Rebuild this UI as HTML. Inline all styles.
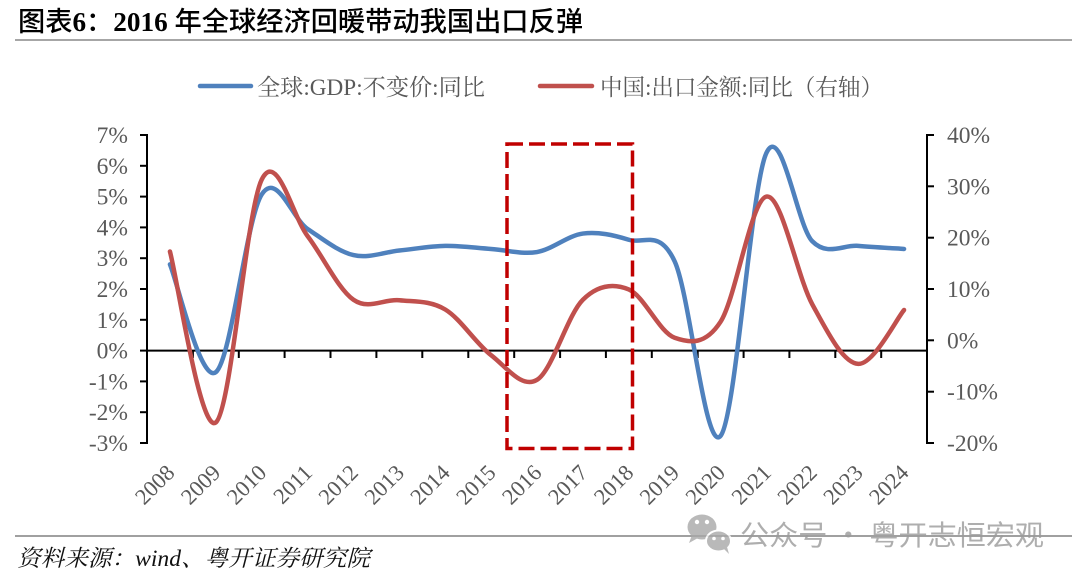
<!DOCTYPE html>
<html>
<head>
<meta charset="utf-8">
<style>
html,body{margin:0;padding:0;background:#fff;}
svg{display:block;}
</style>
</head>
<body>
<svg width="1080" height="578" viewBox="0 0 1080 578" xmlns="http://www.w3.org/2000/svg">
<rect width="1080" height="578" fill="#fff"/>

<!-- Title -->
<text x="18" y="31" font-size="27" fill="#000" textLength="565" lengthAdjust="spacingAndGlyphs" font-family="'Liberation Serif','Noto Sans CJK SC',sans-serif"><tspan font-family="'Noto Sans CJK SC',sans-serif" font-weight="500">图表</tspan><tspan font-family="'Liberation Serif',serif" font-weight="bold">6</tspan><tspan font-family="'Noto Sans CJK SC',sans-serif" font-weight="500">：</tspan><tspan font-family="'Liberation Serif',serif" font-weight="bold">2016 </tspan><tspan font-family="'Noto Sans CJK SC',sans-serif" font-weight="500">年全球经济回暖带动我国出口反弹</tspan></text>
<line x1="15" y1="40" x2="1072" y2="40" stroke="#a6a6a6" stroke-width="2"/>

<!-- Legend -->
<line x1="200" y1="86" x2="251" y2="86" stroke="#4F81BD" stroke-width="4.5" stroke-linecap="round"/>
<text x="257" y="95" font-size="23" fill="#595959" textLength="228" lengthAdjust="spacingAndGlyphs" font-family="'Liberation Serif','Noto Serif CJK SC',serif">全球:GDP:不变价:同比</text>
<line x1="540" y1="86" x2="592" y2="86" stroke="#C0504D" stroke-width="4.5" stroke-linecap="round"/>
<text x="600" y="95" font-size="23" fill="#595959" textLength="283" lengthAdjust="spacingAndGlyphs" font-family="'Liberation Serif','Noto Serif CJK SC',serif">中国:出口金额:同比（右轴）</text>

<!-- Axes -->
<g stroke="#000" stroke-width="2" fill="none">
  <line x1="147" y1="134" x2="147" y2="444"/>
  <line x1="927" y1="134" x2="927" y2="444"/>
  <line x1="146" y1="350.6" x2="928" y2="350.6"/>
  <!-- left ticks -->
  <line x1="140" y1="135" x2="147" y2="135"/>
  <line x1="140" y1="165.8" x2="147" y2="165.8"/>
  <line x1="140" y1="196.6" x2="147" y2="196.6"/>
  <line x1="140" y1="227.4" x2="147" y2="227.4"/>
  <line x1="140" y1="258.2" x2="147" y2="258.2"/>
  <line x1="140" y1="289" x2="147" y2="289"/>
  <line x1="140" y1="319.8" x2="147" y2="319.8"/>
  <line x1="140" y1="350.6" x2="147" y2="350.6"/>
  <line x1="140" y1="381.4" x2="147" y2="381.4"/>
  <line x1="140" y1="412.2" x2="147" y2="412.2"/>
  <line x1="140" y1="443" x2="147" y2="443"/>
  <!-- right ticks -->
  <line x1="927" y1="135" x2="934" y2="135"/>
  <line x1="927" y1="186.3" x2="934" y2="186.3"/>
  <line x1="927" y1="237.7" x2="934" y2="237.7"/>
  <line x1="927" y1="289" x2="934" y2="289"/>
  <line x1="927" y1="340.3" x2="934" y2="340.3"/>
  <line x1="927" y1="391.7" x2="934" y2="391.7"/>
  <line x1="927" y1="443" x2="934" y2="443"/>
  <!-- x ticks -->
  <line x1="192.9" y1="350" x2="192.9" y2="358"/>
  <line x1="238.8" y1="350" x2="238.8" y2="358"/>
  <line x1="284.6" y1="350" x2="284.6" y2="358"/>
  <line x1="330.5" y1="350" x2="330.5" y2="358"/>
  <line x1="376.4" y1="350" x2="376.4" y2="358"/>
  <line x1="422.3" y1="350" x2="422.3" y2="358"/>
  <line x1="468.3" y1="350" x2="468.3" y2="358"/>
  <line x1="514.2" y1="350" x2="514.2" y2="358"/>
  <line x1="560.1" y1="350" x2="560.1" y2="358"/>
  <line x1="605.9" y1="350" x2="605.9" y2="358"/>
  <line x1="651.8" y1="350" x2="651.8" y2="358"/>
  <line x1="697.7" y1="350" x2="697.7" y2="358"/>
  <line x1="743.6" y1="350" x2="743.6" y2="358"/>
  <line x1="789.4" y1="350" x2="789.4" y2="358"/>
  <line x1="835.3" y1="350" x2="835.3" y2="358"/>
  <line x1="881.2" y1="350" x2="881.2" y2="358"/>
</g>

<!-- Left axis labels -->
<g font-family="'Liberation Serif',serif" font-size="23.5" fill="#595959" text-anchor="end">
  <text x="128" y="143">7%</text>
  <text x="128" y="173.8">6%</text>
  <text x="128" y="204.6">5%</text>
  <text x="128" y="235.4">4%</text>
  <text x="128" y="266.2">3%</text>
  <text x="128" y="297">2%</text>
  <text x="128" y="327.8">1%</text>
  <text x="128" y="358.6">0%</text>
  <text x="128" y="389.4">-1%</text>
  <text x="128" y="420.2">-2%</text>
  <text x="128" y="451">-3%</text>
</g>
<!-- Right axis labels -->
<g font-family="'Liberation Serif',serif" font-size="23.5" fill="#595959" text-anchor="start">
  <text x="947" y="143">40%</text>
  <text x="947" y="194.3">30%</text>
  <text x="947" y="245.7">20%</text>
  <text x="947" y="297">10%</text>
  <text x="947" y="348.3">0%</text>
  <text x="947" y="399.7">-10%</text>
  <text x="947" y="451">-20%</text>
</g>

<!-- X labels -->
<g font-family="'Liberation Serif',serif" font-size="22.5" fill="#595959" text-anchor="end">
  <text transform="translate(175.9,474) rotate(-45)">2008</text>
  <text transform="translate(221.8,474) rotate(-45)">2009</text>
  <text transform="translate(267.7,474) rotate(-45)">2010</text>
  <text transform="translate(313.6,474) rotate(-45)">2011</text>
  <text transform="translate(359.5,474) rotate(-45)">2012</text>
  <text transform="translate(405.4,474) rotate(-45)">2013</text>
  <text transform="translate(451.2,474) rotate(-45)">2014</text>
  <text transform="translate(497.1,474) rotate(-45)">2015</text>
  <text transform="translate(543.0,474) rotate(-45)">2016</text>
  <text transform="translate(588.9,474) rotate(-45)">2017</text>
  <text transform="translate(634.8,474) rotate(-45)">2018</text>
  <text transform="translate(680.6,474) rotate(-45)">2019</text>
  <text transform="translate(726.5,474) rotate(-45)">2020</text>
  <text transform="translate(772.4,474) rotate(-45)">2021</text>
  <text transform="translate(818.3,474) rotate(-45)">2022</text>
  <text transform="translate(864.2,474) rotate(-45)">2023</text>
  <text transform="translate(910.0,474) rotate(-45)">2024</text>
</g>

<!-- Blue series -->
<path fill="none" stroke="#4F81BD" stroke-width="4.5" stroke-linecap="round" stroke-linejoin="round"
d="M169.94,264.36 C177.59,282.33 200.53,383.81 215.82,372.16
C231.11,360.51 246.41,218.31 261.70,194.44
C276.99,170.57 292.30,218.83 307.59,228.94
C322.88,239.05 338.18,251.53 353.47,255.12
C368.76,258.71 384.06,252.04 399.35,250.5
C414.64,248.96 429.94,246.14 445.23,245.88
C460.52,245.62 475.82,247.93 491.11,248.96
C506.40,249.99 521.71,254.61 537.00,252.04
C552.29,249.47 567.59,235.61 582.88,233.56
C598.17,231.51 613.47,235.10 628.76,239.72
C644.05,244.34 659.35,228.58 674.64,261.28
C689.93,293.98 705.24,453.98 720.53,435.92
C735.82,417.86 751.12,185.38 766.41,152.94
C781.70,120.50 797.00,225.77 812.29,241.26
C827.58,256.75 842.88,244.60 858.17,245.88
C873.46,247.16 896.40,248.45 904.05,248.96"/>

<!-- Red series -->
<path fill="none" stroke="#C0504D" stroke-width="4.5" stroke-linecap="round" stroke-linejoin="round"
d="M169.94,251.49 C177.59,279.98 200.53,434.41 215.82,422.43
C231.11,410.45 246.41,210.69 261.70,179.63
C276.99,148.57 292.30,216.08 307.59,236.1
C322.88,256.12 338.18,289.06 353.47,299.75
C368.76,310.44 384.06,298.63 399.35,300.26
C414.64,301.89 429.94,300.34 445.23,309.5
C460.52,318.66 475.82,343.47 491.11,355.19
C506.40,366.91 521.71,389.07 537.00,379.83
C552.29,370.59 567.59,314.81 582.88,299.75
C598.17,284.69 613.47,283.15 628.76,289.48
C644.05,295.81 659.35,332.34 674.64,337.73
C689.93,343.12 705.24,345.35 720.53,321.82
C735.82,298.29 751.12,199.48 766.41,196.57
C781.70,193.66 797.00,276.48 812.29,304.37
C827.58,332.26 842.88,362.97 858.17,363.91
C873.46,364.85 896.40,318.99 904.05,310.01"/>

<!-- Dashed highlight box -->
<rect x="507" y="144" width="125.5" height="304.5" fill="none" stroke="#C00000" stroke-width="3.5" stroke-dasharray="16 6"/>

<!-- Footer line -->
<line x1="15" y1="536" x2="1072" y2="536" stroke="#a0a0a0" stroke-width="2"/>

<!-- Watermark -->
<g opacity="0.8">
  <g fill="#a8a8a8">
    <ellipse cx="702" cy="527" rx="14.5" ry="12.5"/>
    <path d="M692,535 L689,543 L698,538 Z"/>
  </g>
  <g fill="#a8a8a8" stroke="#fff" stroke-width="2">
    <ellipse cx="718.5" cy="541" rx="12.5" ry="10.5"/>
  </g>
  <path d="M724,549 L729,554 L727,547 Z" fill="#a8a8a8"/>
  <g fill="#fff">
    <circle cx="697" cy="522" r="2.2"/>
    <circle cx="707" cy="522" r="2.2"/>
    <circle cx="714" cy="538.5" r="1.8"/>
    <circle cx="723" cy="538.5" r="1.8"/>
  </g>
  <text x="740" y="545" font-size="28" fill="#9a9a9a" textLength="304" lengthAdjust="spacingAndGlyphs" font-family="'Noto Sans CJK SC',sans-serif">公众号 · 粤开志恒宏观</text>
</g>

<!-- Source -->
<text x="17" y="566" font-size="23" fill="#111" font-style="italic" textLength="353" lengthAdjust="spacingAndGlyphs" font-family="'Liberation Serif','Noto Serif CJK SC',serif">资料来源：wind、粤开证券研究院</text>
</svg>
</body>
</html>
